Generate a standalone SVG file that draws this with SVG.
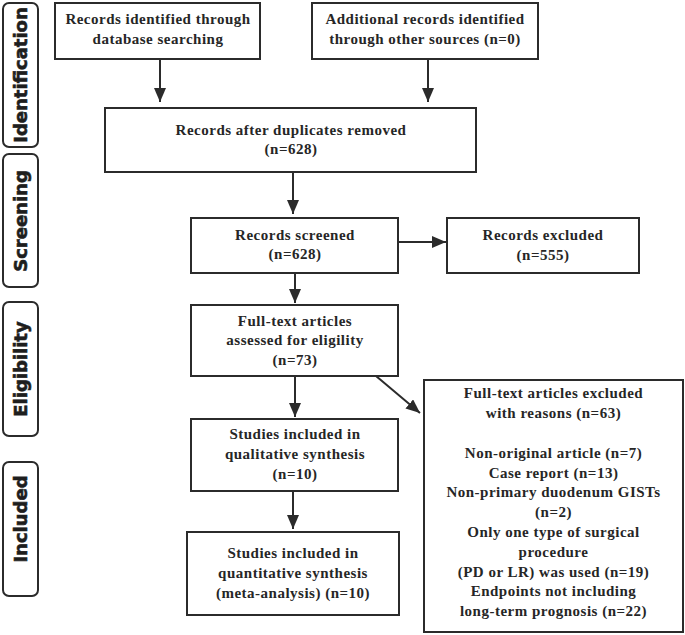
<svg xmlns="http://www.w3.org/2000/svg" width="685" height="635" viewBox="0 0 685 635">
<defs>
<marker id="ah" markerUnits="userSpaceOnUse" markerWidth="16" markerHeight="12" refX="14" refY="6" orient="auto">
<path d="M0,0 L14,6 L0,12 Z" fill="#2b2b2b"/>
</marker>
<style>
.box{fill:#fff;stroke:#2b2b2b;stroke-width:2}
.side{fill:#fff;stroke:#2b2b2b;stroke-width:2}
.t{font-family:"Liberation Serif","Times New Roman",serif;font-weight:bold;font-size:15px;fill:#262626;text-anchor:middle;letter-spacing:0.5px}
.s{font-family:"DejaVu Sans","Arial Black",sans-serif;font-weight:bold;font-size:18px;fill:#1e1e1e;stroke:#1e1e1e;stroke-width:0.6;text-anchor:middle}
.c{stroke:#2b2b2b;stroke-width:2;fill:none;marker-end:url(#ah)}
</style>
</defs>
<rect width="685" height="635" fill="#fff"/>

<g id="stage-identification">
<rect class="side" x="3" y="3" width="35" height="144" rx="6"/>
<text class="s" transform="translate(27,75) rotate(-90)">Identification</text>
</g>
<g id="stage-screening">
<rect class="side" x="3" y="154" width="35" height="133" rx="6"/>
<text class="s" transform="translate(27,221) rotate(-90)">Screening</text>
</g>
<g id="stage-eligibility">
<rect class="side" x="3" y="302" width="35" height="134" rx="6"/>
<text class="s" transform="translate(27,369) rotate(-90)">Eligibility</text>
</g>
<g id="stage-included">
<rect class="side" x="3" y="462" width="35" height="134" rx="6"/>
<text class="s" transform="translate(27,519) rotate(-90)">Included</text>
</g>

<g id="connectors">
<line class="c" x1="160" y1="59" x2="160" y2="102"/>
<line class="c" x1="428" y1="59" x2="428" y2="102"/>
<line class="c" x1="293" y1="172" x2="293" y2="214"/>
<line class="c" x1="398" y1="242" x2="446" y2="242"/>
<line class="c" x1="295" y1="273" x2="295" y2="303"/>
<line class="c" x1="295" y1="376" x2="295" y2="417"/>
<line class="c" x1="376" y1="376" x2="420" y2="413"/>
<line class="c" x1="293" y1="491" x2="293" y2="529"/>
</g>

<g id="n1">
<rect class="box" x="55" y="3" width="205" height="56"/>
<text class="t" x="158" y="24">Records identified through</text>
<text class="t" x="158" y="44">database searching</text>
</g>
<g id="n2">
<rect class="box" x="312" y="3" width="226" height="56"/>
<text class="t" x="425" y="24">Additional records identified</text>
<text class="t" x="425" y="44">through other sources (n=0)</text>
</g>
<g id="n3">
<rect class="box" x="105" y="108" width="371" height="64"/>
<text class="t" x="291" y="135">Records after duplicates removed</text>
<text class="t" x="291" y="154">(n=628)</text>
</g>
<g id="n4">
<rect class="box" x="191" y="218" width="207" height="55"/>
<text class="t" x="295" y="240">Records screened</text>
<text class="t" x="295" y="259">(n=628)</text>
</g>
<g id="n5">
<rect class="box" x="447" y="218" width="192" height="55"/>
<text class="t" x="543" y="240">Records excluded</text>
<text class="t" x="543" y="260">(n=555)</text>
</g>
<g id="n6">
<rect class="box" x="191" y="305" width="207" height="71"/>
<text class="t" x="295" y="326">Full-text articles</text>
<text class="t" x="295" y="345">assessed for eligility</text>
<text class="t" x="295" y="365">(n=73)</text>
</g>
<g id="n7">
<rect class="box" x="191" y="419" width="207" height="72"/>
<text class="t" x="295" y="439">Studies included in</text>
<text class="t" x="295" y="459">qualitative synthesis</text>
<text class="t" x="295" y="479">(n=10)</text>
</g>
<g id="n8">
<rect class="box" x="187" y="532" width="212" height="83"/>
<text class="t" x="293" y="558">Studies included in</text>
<text class="t" x="293" y="578">quantitative synthesis</text>
<text class="t" x="293" y="598">(meta-analysis) (n=10)</text>
</g>
<g id="n9">
<rect class="box" x="424" y="380" width="259" height="252"/>
<text class="t" x="553.5" y="398">Full-text articles excluded</text>
<text class="t" x="553.5" y="418">with reasons (n=63)</text>
<text class="t" x="553.5" y="457.5">Non-original article (n=7)</text>
<text class="t" x="553.5" y="477.5">Case report (n=13)</text>
<text class="t" x="553.5" y="497">Non-primary duodenum GISTs</text>
<text class="t" x="553.5" y="517">(n=2)</text>
<text class="t" x="553.5" y="537">Only one type of surgical</text>
<text class="t" x="553.5" y="557">procedure</text>
<text class="t" x="553.5" y="577">(PD or LR) was used (n=19)</text>
<text class="t" x="553.5" y="596">Endpoints not including</text>
<text class="t" x="553.5" y="616">long-term prognosis (n=22)</text>
</g>
</svg>
